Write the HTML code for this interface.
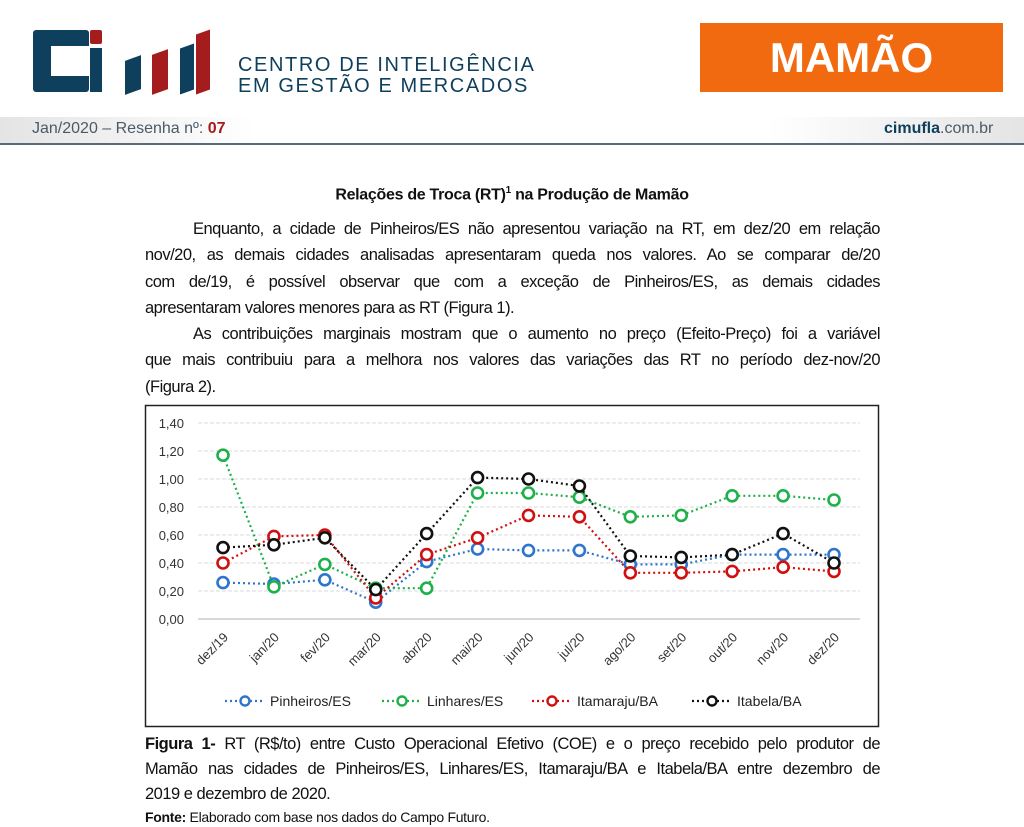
<!DOCTYPE html>
<html><head><meta charset="utf-8">
<style>
body{margin:0;width:1024px;height:827px;background:#fff;position:relative;overflow:hidden;font-family:"Liberation Sans",sans-serif;color:#111}
.ab{position:absolute}
.ln{position:absolute;left:145px;width:735px;font-size:16.5px;text-align:justify;text-align-last:justify;white-space:nowrap;letter-spacing:-0.5px}
.nl{text-align-last:left}
</style></head><body>
<div class="ab" style="left:30px;top:28px;width:200px;height:66px">
 <div class="ab" style="left:3px;top:2px;width:56px;height:62px;background:#0e3f5c;border-radius:3px"></div>
 <div class="ab" style="left:21px;top:18px;width:38px;height:30px;background:#fff"></div>
 <div class="ab" style="left:60px;top:2px;width:12px;height:14px;background:#a51c1c;border-radius:2px"></div>
 <div class="ab" style="left:60px;top:20px;width:12px;height:44px;background:#0e3f5c"></div>
 <div class="ab" style="left:95px;top:30px;width:16px;height:34px;background:#0e3f5c;transform:skewY(-20deg)"></div>
 <div class="ab" style="left:122px;top:24px;width:16px;height:40px;background:#a51c1c;transform:skewY(-20deg)"></div>
 <div class="ab" style="left:150px;top:18px;width:14px;height:46px;background:#0e3f5c;transform:skewY(-20deg)"></div>
 <div class="ab" style="left:166px;top:4px;width:14px;height:60px;background:#a51c1c;transform:skewY(-20deg)"></div>
</div>
<div class="ab" style="left:238px;top:55px;font-size:20px;line-height:21px;color:#0e3f5c;letter-spacing:1.6px">CENTRO DE INTELIGÊNCIA<br>EM GESTÃO E MERCADOS</div>
<div class="ab" style="left:700px;top:23px;width:303px;height:69px;background:#f26a10;color:#fff;font-weight:bold;font-size:42px;line-height:69px;text-align:center">MAMÃO</div>
<div class="ab" style="left:0;top:117px;width:1024px;height:26px;background:linear-gradient(90deg,#e4e4e4,#fff 25%,#fff 75%,#e4e4e4)"></div>
<div class="ab" style="left:0;top:143px;width:1024px;height:2px;background:#5a6a78"></div>
<div class="ab" style="left:32px;top:120px;font-size:16px;color:#4a5a68">Jan/2020 – Resenha nº: <b style="color:#a51c1c">07</b></div>
<div class="ab" style="left:884px;top:120px;font-size:16px;color:#4a5a68"><b style="color:#0e3f5c">cimufla</b>.com.br</div>
<div class="ab" style="left:0;width:1024px;top:185px;text-align:center;font-weight:bold;font-size:16px;letter-spacing:-0.3px">Relações de Troca (RT)<sup style="font-size:10px">1</sup> na Produção de Mamão</div>
<div>
<div class="ln" style="top:220px;padding-left:48px;width:687px">Enquanto, a cidade de Pinheiros/ES não apresentou variação na RT, em dez/20 em relação</div>
<div class="ln" style="top:246px">nov/20, as demais cidades analisadas apresentaram queda nos valores. Ao se comparar de/20</div>
<div class="ln" style="top:273px">com de/19, é possível observar que com a exceção de Pinheiros/ES, as demais cidades</div>
<div class="ln nl" style="top:299px">apresentaram valores menores para as RT (Figura 1).</div></div>
<div>
<div class="ln" style="top:325px;padding-left:48px;width:687px">As contribuições marginais mostram que o aumento no preço (Efeito-Preço) foi a variável</div>
<div class="ln" style="top:351px">que mais contribuiu para a melhora nos valores das variações das RT no período dez-nov/20</div>
<div class="ln nl" style="top:378px">(Figura 2).</div></div>
<svg class="ab" style="left:0;top:0" width="1024" height="827" id="chart">
<rect x="145.5" y="405.5" width="733" height="321" fill="none" stroke="#222" stroke-width="1.5"/>
</svg>
<div>
<div class="ln" style="top:735px"><b>Figura 1-</b> RT (R$/to) entre Custo Operacional Efetivo (COE) e o preço recebido pelo produtor de</div>
<div class="ln" style="top:760px">Mamão nas cidades de Pinheiros/ES, Linhares/ES, Itamaraju/BA e Itabela/BA entre dezembro de</div>
<div class="ln nl" style="top:785px">2019 e dezembro de 2020.</div></div>
<div class="ab" style="left:145px;top:809px;font-size:14px;letter-spacing:-0.3px"><b>Fonte:</b> Elaborado com base nos dados do Campo Futuro.</div>
<script>
const categories=["dez/19","jan/20","fev/20","mar/20","abr/20","mai/20","jun/20","jul/20","ago/20","set/20","out/20","nov/20","dez/20"];
const yTicks=[0,0.2,0.4,0.6,0.8,1.0,1.2,1.4];
const pinheiros=[0.26,0.25,0.28,0.12,0.41,0.50,0.49,0.49,0.39,0.39,0.46,0.46,0.46];
const linhares=[1.17,0.23,0.39,0.22,0.22,0.90,0.90,0.87,0.73,0.74,0.88,0.88,0.85];
const itamaraju=[0.40,0.59,0.60,0.15,0.46,0.58,0.74,0.73,0.33,0.33,0.34,0.37,0.34];
const itabela=[0.51,0.53,0.58,0.21,0.61,1.01,1.00,0.95,0.45,0.44,0.46,0.61,0.40];
const seriesNames=["Pinheiros/ES","Linhares/ES","Itamaraju/BA","Itabela/BA"];
const svg=document.getElementById('chart');const NS='http://www.w3.org/2000/svg';
const x=i=>223+i*(834-223)/(categories.length-1);
const y=v=>619-v*140;
function mk(t,a){const e=document.createElementNS(NS,t);for(const k in a)e.setAttribute(k,a[k]);svg.appendChild(e);return e;}
yTicks.forEach((t,i)=>{
 const g=mk('line',{x1:198,x2:860,y1:y(t),y2:y(t),stroke:'#d9d9d9','stroke-width':t===0?2:1,'stroke-dasharray':t===0?'':'4 2'});
 
 
 const l=mk('text',{x:184,y:y(t)+5,'text-anchor':'end','font-size':13,fill:'#333'});
 l.textContent=t.toFixed(2).replace('.',',');
 
 
});
categories.forEach((c,i)=>{
 const l=mk('text',{x:x(i)+6,y:638,'text-anchor':'end','font-size':13,fill:'#333',transform:`rotate(-45 ${x(i)+6} 638)`});
 l.textContent=c;
 
 
});
const colors=['#2e75cc','#1fb04a','#d01010','#111'];
[pinheiros,linhares,itamaraju,itabela].forEach((s,k)=>{
 const p=mk('polyline',{points:s.map((v,i)=>x(i)+','+y(v)).join(' '),fill:'none',stroke:colors[k],'stroke-width':2.2,'stroke-dasharray':'2 3'});
 
 
 s.forEach((v,i)=>{
  const c=mk('circle',{cx:x(i),cy:y(v),r:5.5,fill:'#fff',stroke:colors[k],'stroke-width':2.6});
  
  
 });
});
const lx=[225,382,532,692];
seriesNames.forEach((n,k)=>{
 const l=mk('line',{x1:lx[k],x2:lx[k]+40,y1:701,y2:701,stroke:colors[k],'stroke-width':2.2,'stroke-dasharray':'2 3'});
 
 
 const c=mk('circle',{cx:lx[k]+20,cy:701,r:4.5,fill:'#fff',stroke:colors[k],'stroke-width':2.4});
 
 
 const t=mk('text',{x:lx[k]+45,y:706,'font-size':14,fill:'#222'});
 t.textContent=n;
 
 
});
</script>
</body></html>
